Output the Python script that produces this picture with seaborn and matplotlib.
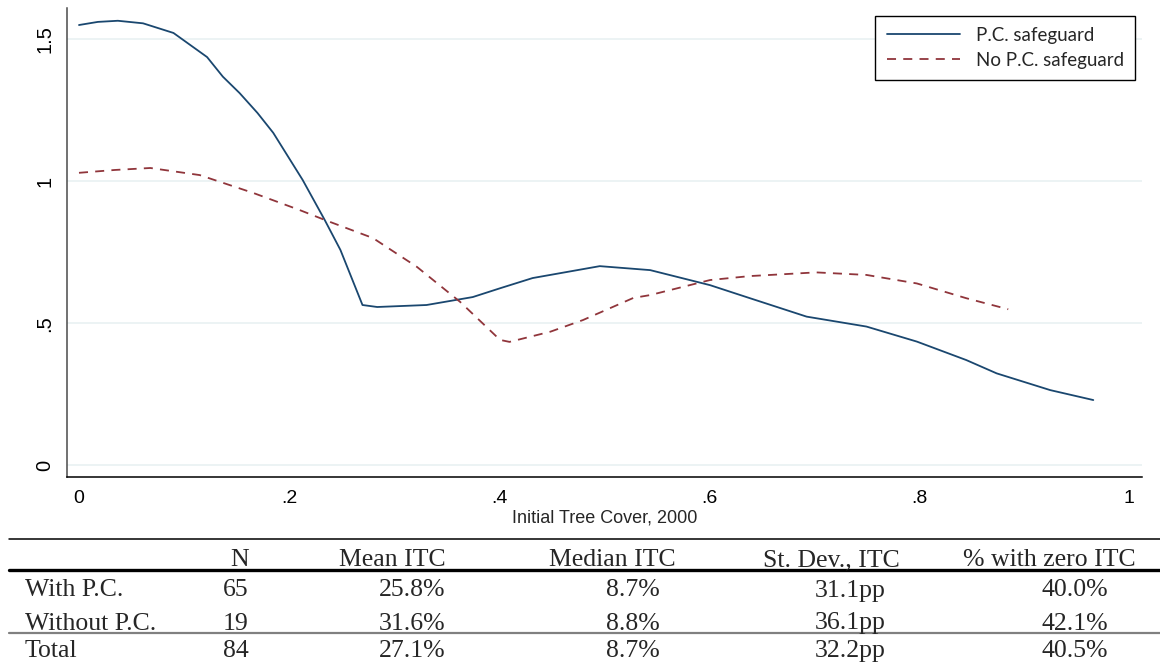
import numpy as np
import pandas as pd
import matplotlib
matplotlib.use("Agg")
import matplotlib.pyplot as plt
import seaborn as sns
from matplotlib.lines import Line2D

# ---------------- data ----------------
pc_x = [0.000, 0.018, 0.037, 0.061, 0.090, 0.122, 0.137, 0.153, 0.170, 0.185, 0.213, 0.234, 0.249,
        0.270, 0.284, 0.331, 0.375, 0.401, 0.432, 0.496, 0.544, 0.601, 0.639, 0.693,
        0.750, 0.798, 0.845, 0.874, 0.925, 0.966]
pc_y = [1.551, 1.562, 1.566, 1.557, 1.523, 1.438, 1.369, 1.311, 1.241, 1.171, 1.005, 0.864, 0.758,
        0.564, 0.557, 0.564, 0.592, 0.623, 0.659, 0.701, 0.687, 0.634, 0.588, 0.523,
        0.488, 0.435, 0.370, 0.323, 0.264, 0.229]
nopc_x = [0.000, 0.034, 0.068, 0.115, 0.166, 0.210, 0.234, 0.280, 0.322, 0.363, 0.401,
          0.410, 0.449, 0.480, 0.528, 0.544, 0.601, 0.639, 0.702, 0.750, 0.798, 0.845, 0.885]
nopc_y = [1.030, 1.040, 1.047, 1.022, 0.959, 0.899, 0.864, 0.800, 0.698, 0.575, 0.441,
          0.434, 0.470, 0.511, 0.589, 0.599, 0.652, 0.666, 0.679, 0.670, 0.640, 0.588, 0.549]
series_labels = ["P.C. safeguard", "No P.C. safeguard"]

x_ticks = [0, 0.2, 0.4, 0.6, 0.8, 1.0]
x_tick_labels = ["0", ".2", ".4", ".6", ".8", "1"]
y_ticks = [0, 0.5, 1.0, 1.5]
y_tick_labels = ["0", ".5", "1", "1.5"]
x_label = "Initial Tree Cover, 2000"

table_header = ["N", "Mean ITC", "Median ITC", "St. Dev., ITC", "% with zero ITC"]
table_rows = ["With P.C.", "Without P.C.", "Total"]
n_vals = ["65", "19", "84"]
mean_vals = ["25.8%", "31.6%", "27.1%"]
median_vals = ["8.7%", "8.8%", "8.7%"]
sd_vals = ["31.1pp", "36.1pp", "32.2pp"]
zero_vals = ["40.0%", "42.1%", "40.5%"]

# ---------------- style ----------------
sns.set_style("white")
plt.rcParams["font.family"] = ["Liberation Sans", "DejaVu Sans"]

W, H = 1160, 664
fig = plt.figure(figsize=(W / 100, H / 100), dpi=100)

def fx(px):
    return px / W

def fy(py):
    return 1 - py / H

ax_l, ax_r, ax_t, ax_b = 66.7, 1142, 8, 477
ax = fig.add_axes([fx(ax_l), fy(ax_b), fx(ax_r - ax_l), (ax_b - ax_t) / H])

blue = "#1a476f"
red = "#90353b"

df = pd.concat([
    pd.DataFrame({"x": pc_x, "y": pc_y, "group": series_labels[0]}),
    pd.DataFrame({"x": nopc_x, "y": nopc_y, "group": series_labels[1]}),
], ignore_index=True)

sns.lineplot(data=df, x="x", y="y", hue="group", style="group",
             palette={series_labels[0]: blue, series_labels[1]: red},
             dashes={series_labels[0]: "", series_labels[1]: (5, 4)},
             estimator=None, sort=False, linewidth=1.3, legend=False, ax=ax)

ax.set_xlim(-0.0117, 1.0124)
ax.set_ylim(-0.0423, 1.611)
ax.set_xticks(x_ticks)
ax.set_xticklabels(x_tick_labels, fontsize=14)
ax.set_yticks(y_ticks)
ax.set_yticklabels(y_tick_labels, fontsize=14.5, rotation=90, va="center")
ax.set_xlabel(x_label, fontsize=13, labelpad=2)
ax.set_ylabel("")

ax.grid(axis="y", color="#eaf2f3", linewidth=1.3)
ax.grid(axis="x", visible=False)
ax.set_axisbelow(True)
for s in ["top", "right"]:
    ax.spines[s].set_visible(False)
ax.spines["left"].set_color("#4a4a4a")
ax.spines["bottom"].set_color("black")
ax.spines["left"].set_linewidth(1.1)
ax.spines["bottom"].set_linewidth(1.1)
ax.tick_params(axis="both", direction="out", length=6, width=1, color="#4a4a4a",
               labelcolor="black", pad=3.5)
ax.tick_params(axis="y", pad=3)

handles = [Line2D([0], [0], color=blue, lw=1.3),
           Line2D([0], [0], color=red, lw=1.3, dashes=(5, 4))]
leg = ax.legend(handles, series_labels, loc="upper right",
                bbox_to_anchor=(0.9935, 0.9836), borderaxespad=0,
                frameon=True, fancybox=False, edgecolor="black", framealpha=1,
                handlelength=3.9, handletextpad=0.85, labelspacing=0.42,
                borderpad=0.6,
                prop={"family": ["Lato", "DejaVu Sans"], "size": 13.5})
leg.get_frame().set_linewidth(1.0)

# ---------------- table ----------------
serif = ["Liberation Serif", "DejaVu Serif"]
tsize = 18.5

def tline(y, color, lw):
    fig.add_artist(Line2D([fx(9), 1.0], [fy(y), fy(y)], color=color, linewidth=lw,
                          transform=fig.transFigure))

tline(539, "black", 1.1)
tline(570, "black", 2.4)
tline(633, "#808080", 1.6)

header_x = [240, 392.5, 612, 831, 1049.5]
for txt, xc in zip(table_header, header_x):
    fig.text(fx(xc), fy(566), txt, ha="center", va="baseline",
             family=serif, fontsize=tsize)

row_base = [596.5, 629.5, 657]
val_x = [236, 412.5, 632.5, 850.5, 1075]
cols = [n_vals, mean_vals, median_vals, sd_vals, zero_vals]
for i, (lab, yb) in enumerate(zip(table_rows, row_base)):
    fig.text(fx(25), fy(yb), lab, ha="left", va="baseline", family=serif, fontsize=tsize)
    for col, xc in zip(cols, val_x):
        fig.text(fx(xc), fy(yb), col[i], ha="center", va="baseline",
                 family=serif, fontsize=tsize)

fig.savefig("out.png", dpi=100)
